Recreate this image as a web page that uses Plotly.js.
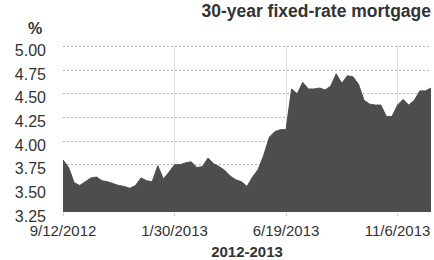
<!DOCTYPE html>
<html>
<head>
<meta charset="utf-8">
<script src="https://cdn.plot.ly/plotly-3.0.1.min.js"></script>
<style>html,body{margin:0;padding:0;background:#fff;}#chart{width:434px;height:260px;}</style>
</head>
<body>
<div id="chart"></div>
<script>
var dates = [
"2012-09-12","2012-09-19","2012-09-26","2012-10-03","2012-10-10","2012-10-17","2012-10-24","2012-10-31",
"2012-11-07","2012-11-14","2012-11-21","2012-11-28","2012-12-05","2012-12-12","2012-12-19","2012-12-26",
"2013-01-02","2013-01-09","2013-01-16","2013-01-23","2013-01-30","2013-02-06","2013-02-13","2013-02-20",
"2013-02-27","2013-03-06","2013-03-13","2013-03-20","2013-03-27","2013-04-03","2013-04-10","2013-04-17",
"2013-04-24","2013-05-01","2013-05-08","2013-05-15","2013-05-22","2013-05-29","2013-06-05","2013-06-12",
"2013-06-19","2013-06-26","2013-07-03","2013-07-10","2013-07-17","2013-07-24","2013-07-31","2013-08-07",
"2013-08-14","2013-08-21","2013-08-28","2013-09-04","2013-09-11","2013-09-18","2013-09-25","2013-10-02",
"2013-10-09","2013-10-16","2013-10-23","2013-10-30","2013-11-06","2013-11-13","2013-11-20","2013-11-27",
"2013-12-04","2013-12-11","2013-12-18"];
var rates = [
3.80,3.72,3.56,3.53,3.57,3.61,3.62,3.58,
3.57,3.55,3.53,3.52,3.50,3.53,3.61,3.58,
3.57,3.74,3.60,3.67,3.75,3.75,3.77,3.78,
3.72,3.73,3.82,3.76,3.73,3.69,3.63,3.59,
3.57,3.52,3.62,3.70,3.85,4.04,4.10,4.12,
4.12,4.55,4.50,4.62,4.55,4.55,4.56,4.54,
4.58,4.71,4.61,4.69,4.68,4.60,4.43,4.39,
4.38,4.38,4.26,4.26,4.38,4.44,4.38,4.43,
4.53,4.53,4.56];
var xTickVals = ["2012-09-12","2013-01-30","2013-06-19","2013-11-06"];
var xTickText = ["9/12/2012","1/30/2013","6/19/2013","11/6/2013"];
var yTickVals = [3.25,3.5,3.75,4.0,4.25,4.5,4.75,5.0];
var yTickText = ["3.25","3.50","3.75","4.00","4.25","4.50","4.75","5.00"];

var trace = {
  x: dates, y: rates, type: 'scatter', mode: 'lines',
  fill: 'tozeroy', fillcolor: '#4d4d4d',
  line: {color: '#4d4d4d', width: 1}
};
var font = "Liberation Sans, Arial, sans-serif";
var layout = {
  width: 434, height: 260,
  margin: {l: 63, r: 3, t: 44.5, b: 48},
  paper_bgcolor: '#fff', plot_bgcolor: '#fff',
  showlegend: false,
  title: {text: '30-year fixed-rate mortgage', x: 1, xref: 'paper', xanchor: 'right',
          y: 1, yref: 'container', yanchor: 'top', pad: {t: 5, r: 0},
          font: {family: font, size: 17.5, color: '#333', weight: 'bold'}},
  xaxis: {
    type: 'date', range: [dates[0], dates[dates.length-1]],
    tickvals: xTickVals, ticktext: xTickText,
    showgrid: true, gridcolor: '#e2e2e2', gridwidth: 1,
    ticks: 'outside', ticklen: 3, tickcolor: '#ccc',
    zeroline: false, showline: false, ticklabelstandoff: 2,
    tickfont: {family: font, size: 15, color: '#333'},
    title: {text: '2012-2013', standoff: 10, font: {family: font, size: 15, color: '#333', weight: 'bold'}}
  },
  yaxis: {
    range: [3.25, 5.015], tickvals: yTickVals, ticktext: yTickText,
    showgrid: true, gridcolor: '#b4b4b4', griddash: '2px,2px', gridwidth: 1,
    zeroline: false, showline: false, ticklabelstandoff: 16,
    ticklabelshift: 4,
    tickfont: {family: font, size: 16, color: '#333'}
  },
  annotations: [{text: '<b>%</b>', xref: 'paper', yref: 'paper', x: -0.075, y: 1.10,
    xanchor: 'center', yanchor: 'middle', showarrow: false,
    font: {family: font, size: 16, color: '#333'}}]
};
Plotly.newPlot('chart', [trace], layout, {displayModeBar: false, staticPlot: true});
</script>
</body>
</html>
